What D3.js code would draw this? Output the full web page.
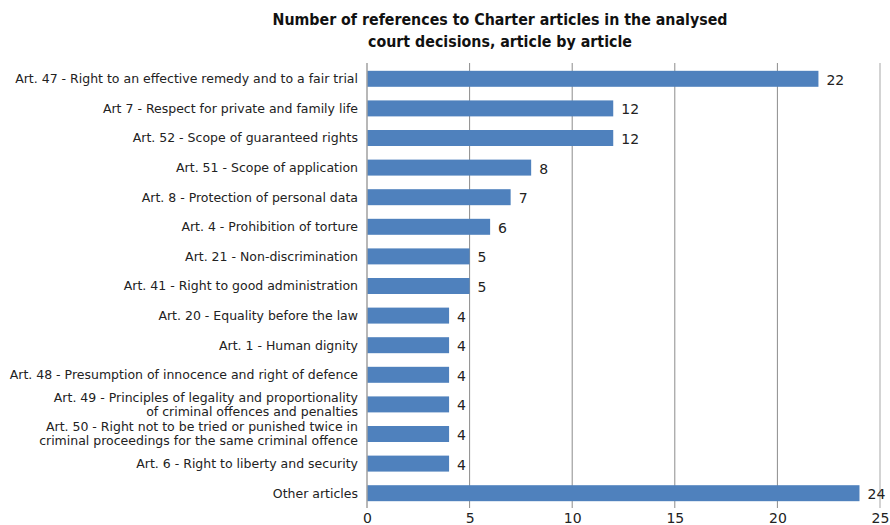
<!DOCTYPE html>
<html>
<head>
<meta charset="utf-8">
<script src="https://cdn.jsdelivr.net/npm/d3@7"></script>
<style>
  body { margin: 0; background: #fff; }
  .cat { font-family: "DejaVu Sans", sans-serif; font-size: 12.5px; fill: #222; }
  .val { font-family: "DejaVu Sans", sans-serif; font-size: 14px; fill: #222; }
  .title { font-family: "DejaVu Sans Condensed", "DejaVu Sans", sans-serif; font-size: 15.8px; font-weight: bold; fill: #111; }
</style>
</head>
<body>
<div id="chart"></div>
<script>
const categories = [
  ["Art. 47 - Right to an effective remedy and to a fair trial"],
  ["Art 7 - Respect for private and family life"],
  ["Art. 52 - Scope of guaranteed rights"],
  ["Art. 51 - Scope of application"],
  ["Art. 8 - Protection of personal data"],
  ["Art. 4 - Prohibition of torture"],
  ["Art. 21 - Non-discrimination"],
  ["Art. 41 - Right to good administration"],
  ["Art. 20 - Equality before the law"],
  ["Art. 1 - Human dignity"],
  ["Art. 48 - Presumption of innocence and right of defence"],
  ["Art. 49 - Principles of legality and proportionality", "of criminal offences and penalties"],
  ["Art. 50 - Right not to be tried or punished twice in", "criminal proceedings for the same criminal offence"],
  ["Art. 6 - Right to liberty and security"],
  ["Other articles"]
];
const values = [22, 12, 12, 8, 7, 6, 5, 5, 4, 4, 4, 4, 4, 4, 24];
const xTicks = [0, 5, 10, 15, 20, 25];
const titleLines = ["Number of references to Charter articles in the analysed", "court decisions, article by article"];

const width = 890, height = 525;
const margin = { top: 64, right: 10, bottom: 17, left: 367 };

const data = categories.map((c, i) => ({ id: i, lines: c, value: values[i] }));

const svg = d3.select("#chart").append("svg")
  .attr("width", width).attr("height", height);

const x = d3.scaleLinear().domain([0, 25]).range([margin.left, 880]);
const y = d3.scaleBand().domain(data.map(d => d.id))
  .range([margin.top, height - margin.bottom]).paddingInner(0.46).paddingOuter(0.23);

// gridlines
svg.append("g").selectAll("line")
  .data(xTicks.filter(t => t > 0))
  .join("line")
  .attr("x1", d => x(d)).attr("x2", d => x(d))
  .attr("y1", margin.top - 1).attr("y2", height - margin.bottom)
  .attr("stroke", d => d === 25 ? "#c4c4c4" : "#8c8c8c")
  .attr("stroke-width", d => d === 25 ? 1.5 : 1);

// bars
svg.append("g").selectAll("rect")
  .data(data)
  .join("rect")
  .attr("x", x(0))
  .attr("y", d => y(d.id))
  .attr("width", d => x(d.value) - x(0))
  .attr("height", y.bandwidth())
  .attr("fill", "#4f81bd");

// baseline
svg.append("line")
  .attr("x1", x(0)).attr("x2", x(0))
  .attr("y1", margin.top - 1).attr("y2", height - margin.bottom)
  .attr("stroke", "#a0a0a0").attr("stroke-width", 1.5);

// value labels
svg.append("g").selectAll("text")
  .data(data)
  .join("text")
  .attr("class", "val")
  .attr("x", d => x(d.value) + 8)
  .attr("y", d => y(d.id) + y.bandwidth() / 2 + 1)
  .attr("dy", "0.35em")
  .text(d => d.value);

// category labels
const cat = svg.append("g").selectAll("text")
  .data(data)
  .join("text")
  .attr("class", "cat")
  .attr("text-anchor", "end")
  .attr("x", x(0) - 9)
  .attr("y", d => y(d.id) + y.bandwidth() / 2);
cat.selectAll("tspan")
  .data(d => d.lines.map((l, i) => ({ l, i, n: d.lines.length })))
  .join("tspan")
  .attr("x", x(0) - 9)
  .attr("dy", d => d.i === 0 ? (0.35 - (d.n - 1) * 0.56) + "em" : "1.12em")
  .text(d => d.l);

// x axis labels
svg.append("g")
  .attr("transform", `translate(0,${height - margin.bottom})`)
  .call(d3.axisBottom(x).tickValues(xTicks).tickSize(0).tickPadding(5))
  .call(g => g.select(".domain").remove())
  .call(g => g.selectAll("text").attr("class", "val").attr("font-size", null).attr("font-family", null));

// title
svg.append("text")
  .attr("class", "title")
  .attr("text-anchor", "middle")
  .attr("x", 500).attr("y", 25)
  .selectAll("tspan")
  .data(titleLines)
  .join("tspan")
  .attr("x", 500)
  .attr("dy", (d, i) => i === 0 ? 0 : 22)
  .text(d => d);
</script>
</body>
</html>
